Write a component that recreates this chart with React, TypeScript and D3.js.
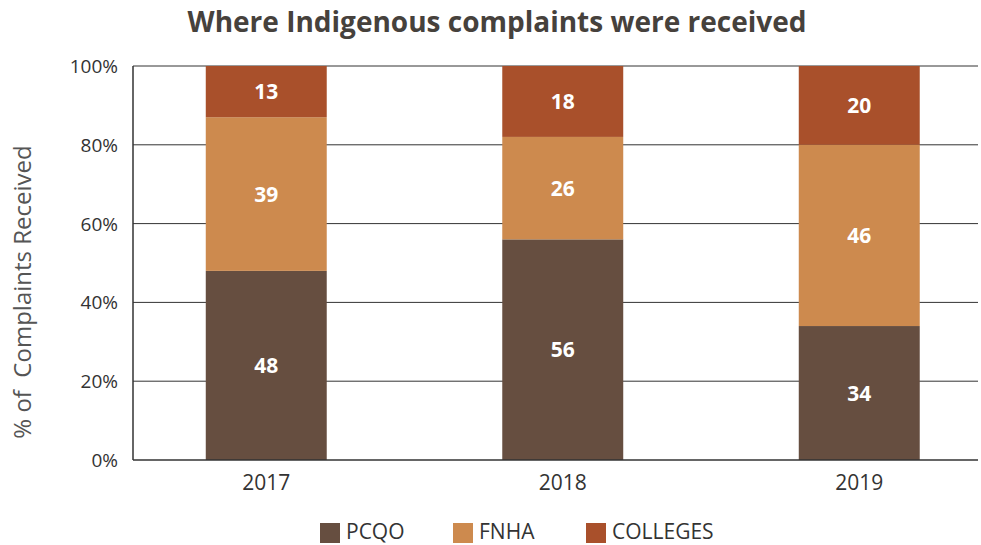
import React from "react";
import * as d3 from "d3";

const years = ["2017", "2018", "2019"];
const pcqo = [48, 56, 34];
const fnha = [39, 26, 46];
const colleges = [13, 18, 20];
const seriesNames = ["PCQO", "FNHA", "COLLEGES"];
const colors = ["#664e40", "#cd8a4e", "#a9502b"];
const yTicks = [0, 20, 40, 60, 80, 100];

const W = 981;
const H = 545;
const left = 133;
const right = 978;
const top = 66;
const bottom = 460;
const FONT = "'Open Sans', sans-serif";

export default function App() {
  const x = d3.scaleBand<string>().domain(years).range([118, 1007.5]).paddingInner(0.592).paddingOuter(0.296);
  const y = d3.scaleLinear().domain([0, 100]).range([bottom, top]);
  const rows = years.map((yr, i) => ({ year: yr, PCQO: pcqo[i], FNHA: fnha[i], COLLEGES: colleges[i] }));
  const stack = d3.stack<any>().keys(seriesNames)(rows);

  return (
    <svg width={W} height={H} style={{ display: "block", position: "absolute", left: 0, top: 0 }} fontFamily={FONT}>
      <rect width={W} height={H} fill="#fff" />
      <text x={497} y={32} textAnchor="middle" fontSize={28} fontWeight={700} fill="#46413c">
        Where Indigenous complaints were received
      </text>
      {yTicks.map((t) => (
        <g key={t}>
          {t > 0 && <line x1={left} x2={right} y1={y(t)} y2={y(t)} stroke="#333" strokeWidth={1} />}
          <text x={118} y={y(t) + 7} textAnchor="end" fontSize={19} fill="#333">
            {t}%
          </text>
        </g>
      ))}
      {stack.map((s, si) =>
        s.map((d, i) => (
          <g key={si + "-" + i}>
            <rect x={x(years[i])} width={x.bandwidth()} y={y(d[1])} height={y(d[0]) - y(d[1])} fill={colors[si]} />
            <text x={(x(years[i]) as number) + x.bandwidth() / 2} y={(y(d[0]) + y(d[1])) / 2 + 7.5} textAnchor="middle" fontSize={21} fontWeight={700} fill="#fff">
              {d[1] - d[0]}
            </text>
          </g>
        ))
      )}
      <line x1={left} x2={left} y1={top} y2={bottom} stroke="#333" strokeWidth={1.5} />
      <line x1={left} x2={right} y1={bottom} y2={bottom} stroke="#333" strokeWidth={1.5} />
      {years.map((yr) => (
        <text key={yr} x={(x(yr) as number) + x.bandwidth() / 2} y={490} textAnchor="middle" fontSize={21} fill="#333">
          {yr}
        </text>
      ))}
      <text transform="translate(31,292) rotate(-90)" textAnchor="middle" fontSize={24} fill="#555" style={{ whiteSpace: "pre" }}>
        {"% of  Complaints Received"}
      </text>
      {seriesNames.map((n, i) => {
        const lx = [320, 453, 586][i];
        return (
          <g key={n}>
            <rect x={lx} y={523} width={20} height={20} fill={colors[i]} />
            <text x={lx + 26} y={539} fontSize={21} fill="#333">
              {n}
            </text>
          </g>
        );
      })}
    </svg>
  );
}
